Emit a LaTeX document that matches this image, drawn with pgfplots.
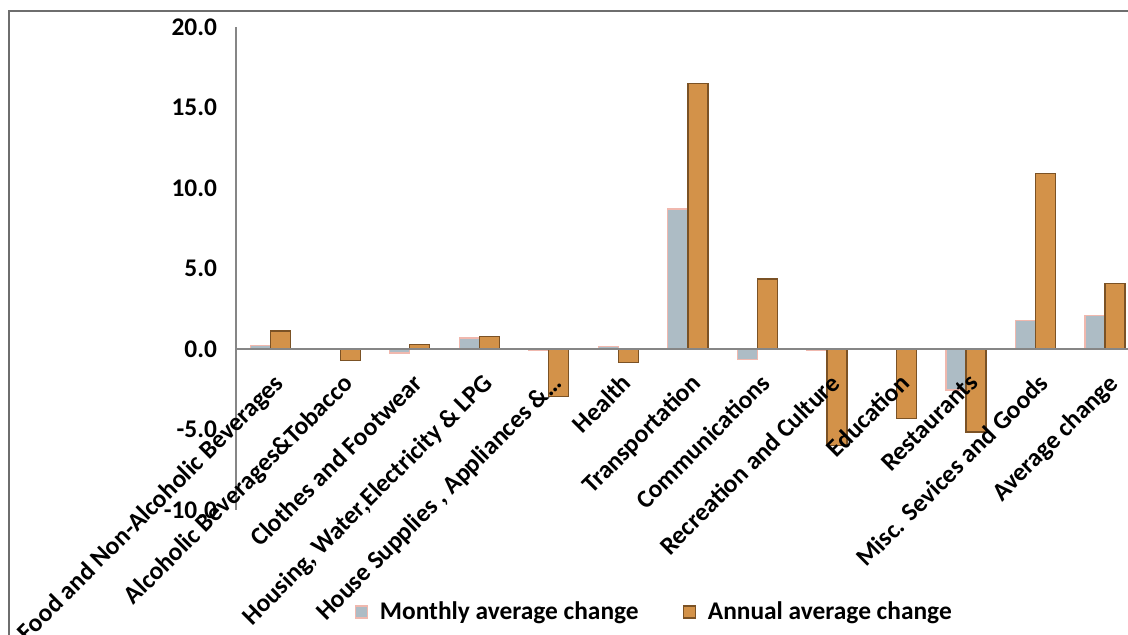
\documentclass[border=0pt]{standalone}
\usepackage{fontspec}
\setmainfont{Carlito}
\usepackage{pgfplots}
\pgfplotsset{compat=1.18}
\definecolor{mon}{HTML}{ADBCC5}
\definecolor{monedge}{HTML}{F0B8AE}
\definecolor{ann}{HTML}{D39249}
\definecolor{annedge}{HTML}{7B5225}
\definecolor{axgray}{HTML}{868686}
\definecolor{framegray}{HTML}{6E6E6E}
\begin{document}
\begin{tikzpicture}
\useasboundingbox (-118pt,-62.5pt) rectangle (446pt,255pt);
\begin{axis}[
 at={(0,0)}, anchor=south west,
 scale only axis, width=446pt, height=241.5pt,
 xmin=-0.5, xmax=12.33, ymin=-10, ymax=20,
 axis on top,
 axis x line=middle, axis y line=left,
 x axis line style={-, draw=axgray, line width=1pt},
 y axis line style={-, draw=axgray, line width=0.75pt},
 xtick={0,...,12},
 xticklabels={Food and Non-Alcoholic Beverages, Alcoholic Beverages\&Tobacco, Clothes and Footwear, {Housing, Water,Electricity \& LPG}, {House Supplies , Appliances \&\symbol{"2026}}, Health, Transportation, Communications, Recreation and Culture, Education, Restaurants, Misc. Sevices and Goods, Average change},
 ytick={-10,-5,0,5,10,15,20},
 major tick length=0pt,
 hide obscured x ticks=false, hide obscured y ticks=false,
 ticklabel style={font=\bfseries\fontsize{12.7}{15}\selectfont},
 xticklabel style={xshift=0.75pt, yshift=-10pt, rotate=45, anchor=north east, inner sep=1pt},
 yticklabel style={anchor=east, xshift=-6pt},
 /pgf/number format/fixed, /pgf/number format/fixed zerofill, /pgf/number format/precision=1, /pgf/number format/assume math mode=true,
 legend style={at={(0.47,-0.211)}, anchor=center, draw=none, fill=none, legend columns=2, font=\bfseries\fontsize{12.7}{15}\selectfont, /tikz/every odd column/.append style={column sep=4pt}, /tikz/every even column/.append style={column sep=20pt}},
 legend image code/.code={\draw[#1, line width=0.6pt] (0pt,-3pt) rectangle (6pt,3pt);},
]
\addplot[ybar, bar width=0.288, bar shift=-0.144, fill=mon, draw=monedge, line width=0.6pt] coordinates {
(0,0.2) (1,0.03) (2,-0.25) (3,0.68) (4,-0.1) (5,0.15) (6,8.7) (7,-0.65) (8,-0.1) (9,-0.05) (10,-2.55) (11,1.75) (12,2.1)};
\addlegendentry{Monthly average change}
\addplot[ybar, bar width=0.288, bar shift=0.144, fill=ann, draw=annedge, line width=0.6pt] coordinates {
(0,1.12) (1,-0.7) (2,0.3) (3,0.78) (4,-2.95) (5,-0.82) (6,16.5) (7,4.35) (8,-6.0) (9,-4.3) (10,-5.15) (11,10.9) (12,4.08)};
\addlegendentry{Annual average change}
\end{axis}
\draw[framegray, line width=1pt] (446pt,249.5pt) -- (-113.5pt,249.5pt) -- (-113.5pt,-62.5pt);
\end{tikzpicture}
\end{document}
